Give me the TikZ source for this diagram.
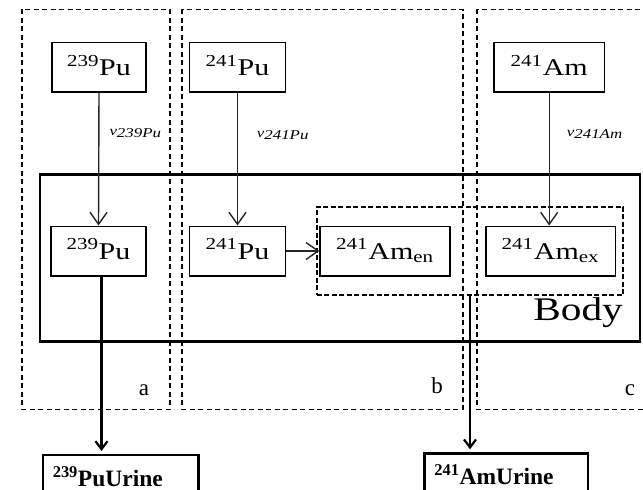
\documentclass[tikz,border=0pt]{standalone}
\usepackage{fontspec}
\setmainfont{Liberation Serif}
\usepackage{graphicx}
\usetikzlibrary{arrows.meta}
\newcommand{\wx}[1]{\scalebox{1.25}[1]{#1}}
\newcommand{\iso}[2]{\textsuperscript{#1}#2}

\begin{document}
\begin{tikzpicture}[x=1pt, y=-1pt,
  box/.style={draw, line width=1.5pt, minimum height=49.5pt, inner sep=0pt, text height=16pt, text depth=0pt, font=\fontsize{24}{28}\selectfont},
  urine/.style={draw, line width=2.2pt, minimum height=50pt, inner xsep=10pt, inner ysep=0pt, align=left, anchor=north west, text height=12pt, text depth=0pt, font=\fontsize{23.5}{28}\selectfont\bfseries},
  panel/.style={draw, line width=1.6pt, dash pattern=on 5pt off 3.5pt},
  flow/.style={-{Straight Barb[length=12pt,width=17pt]}, line width=1.4pt, draw=black!85},
  drain/.style={-{Straight Barb[length=8pt,width=12pt]}, line width=2.2pt, shorten >=3pt},
  rate/.style={anchor=west, inner sep=0pt, font=\fontsize{13.5}{16}\selectfont\itshape},
  tag/.style={anchor=base, inner sep=0pt, font=\fontsize{23}{26}\selectfont}]
\useasboundingbox (0,0) rectangle (643,490);
\clip (0,0) rectangle (643,490);
% compartments a, b, c and the body
\draw[panel] (21.7,9.3) rectangle (170,409.3);
\draw[panel] (181.7,9.3) rectangle (462.7,409.3);
\draw[panel] (476.7,9.3) rectangle (660,409.3);
\draw[line width=2.8pt] (40,174.3) rectangle (640,341.7);
\node[anchor=base east, inner sep=0pt, font=\fontsize{33}{38}\selectfont] (bodylbl) at (623,320) {\wx{Body}};
\node[draw, line width=2.2pt, dash pattern=on 5pt off 2.5pt, minimum width=306.6pt, minimum height=88.3pt] (amgrp) at (470,250.9) {};
% intake
\node[box, minimum width=94pt] (pu239t) at (99,67.2) {\wx{\iso{239}{Pu}}};
\node[box, minimum width=96.4pt] (pu241t) at (237.5,67.2) {\wx{\iso{241}{Pu}}};
\node[box, minimum width=110.3pt] (am241t) at (549.2,67.2) {\wx{\iso{241}{Am}}};
% inside the body
\node[box, minimum width=95pt] (pu239b) at (98.5,251) {\wx{\iso{239}{Pu}}};
\node[box, minimum width=96.4pt] (pu241b) at (237.5,251) {\wx{\iso{241}{Pu}}};
\node[box, minimum width=130pt] (amen) at (385,251) {\wx{\iso{241}{Am}\textsubscript{en}}};
\node[box, minimum width=129.5pt] (amex) at (550.5,251) {\wx{\iso{241}{Am}\textsubscript{ex}}};
% urine
\node[urine, text width=135.6pt] (pu239u) at (41.7,454) {\iso{239}{PuUrine}};
\node[urine, text width=143.4pt] (am241u) at (423.3,452.3) {\iso{241}{AmUrine}};
% rates
\node[rate] (v239) at (109.3,133) {\wx{v\raisebox{-1.5pt}{239Pu}}};
\node[rate] (v241p) at (256.7,135) {\wx{v\raisebox{-1.5pt}{241Pu}}};
\node[rate] (v241a) at (566.7,134) {\wx{v\raisebox{-1.5pt}{241Am}}};
\node[tag] (ta) at (144,395) {a};
\node[tag] (tb) at (437,393.3) {b};
\node[tag] (tc) at (630,395) {c};
\draw[flow] (pu239t.south) -- (pu239b.north);
\draw[flow] (pu241t.south) -- (pu241b.north);
\draw[flow] (am241t.south) -- (am241t.south |- amex.north);
\draw[flow] (pu241b.east) -- (amen.west);
\draw[drain] ([xshift=3pt]pu239b.south) -- ([xshift=3pt]pu239b.south |- pu239u.north);
\draw[drain] (amgrp.south) -- (amgrp.south |- am241u.north);
\end{tikzpicture}
\end{document}
